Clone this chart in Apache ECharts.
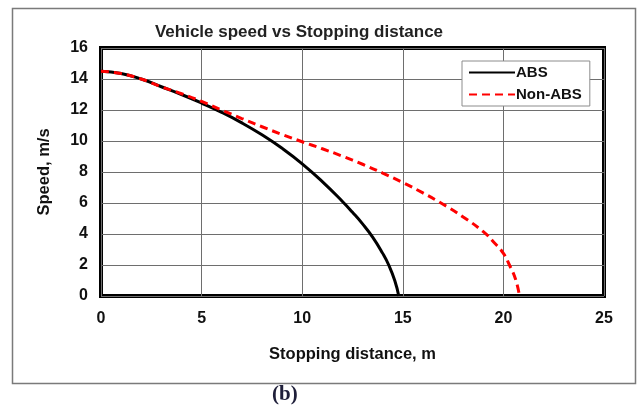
<!DOCTYPE html>
<html>
<head>
<meta charset="utf-8">
<script src="https://cdn.jsdelivr.net/npm/echarts@6/dist/echarts.min.js"></script>
<style>
  html, body { margin: 0; padding: 0; background: #fff; }
  #chart { width: 638px; height: 414px; }
</style>
</head>
<body>
<div id="chart"></div>
<script>
// Values.
const absDistance = [0, 1, 2, 3, 4, 5, 6, 7, 8, 9, 10, 11, 12, 12.5, 13, 13.5, 14, 14.3, 14.6, 14.8];
const absSpeed = [14.5, 14.35, 14.0, 13.5, 13.0, 12.45, 11.85, 11.17, 10.4, 9.53, 8.53, 7.38, 6.1, 5.4, 4.65, 3.8, 2.75, 2.0, 1.0, 0];

const nonAbsDistance = [0, 1, 2, 3, 4, 5, 6, 7, 8, 9, 10, 11, 12, 13, 14, 15, 16, 17, 18, 19, 19.5, 20, 20.3, 20.6, 20.8];
const nonAbsSpeed = [14.5, 14.35, 14.0, 13.5, 13.05, 12.55, 12.0, 11.45, 10.92, 10.42, 9.95, 9.5, 9.02, 8.5, 7.93, 7.32, 6.65, 5.92, 5.1, 4.15, 3.5, 2.75, 2.0, 1.1, 0];

const seriesNames = ['ABS', 'Non-ABS'];
const titleText = 'Vehicle speed vs Stopping distance';
const xAxisName = 'Stopping distance, m';
const yAxisName = 'Speed, m/s';
const captionText = '(b)';

const pairs = (xs, ys) => xs.map((x, i) => [x, ys[i]]);

const font = '"Liberation Sans", Arial, sans-serif';
const chart = echarts.init(document.getElementById('chart'), null, { renderer: 'canvas' });

chart.setOption({
  animation: false,
  backgroundColor: '#fff',
  title: {
    text: titleText,
    left: 294,
    textAlign: 'center',
    top: 19,
    textStyle: { fontFamily: font, fontSize: 17, fontWeight: 'bold', color: '#222' }
  },
  legend: {
    data: seriesNames,
    orient: 'vertical',
    left: 462,
    top: 61,
    itemWidth: 46,
    itemHeight: 14,
    itemGap: 7,
    padding: [4, 8, 4, 6],
    backgroundColor: '#fff',
    borderColor: '#8c8c8c',
    borderWidth: 1,
    borderRadius: 0,
    itemStyle: { opacity: 0 },
    textStyle: { fontFamily: font, fontSize: 15, fontWeight: 'bold', color: '#111', padding: [0, 0, 0, -4] }
  },
  grid: {
    left: 101,
    right: 34,
    top: 48,
    bottom: 118,
    show: true,
    borderColor: '#000',
    borderWidth: 4
  },
  xAxis: {
    type: 'value',
    min: 0,
    max: 25,
    interval: 5,
    name: xAxisName,
    nameLocation: 'middle',
    nameGap: 50,
    nameTextStyle: { fontFamily: font, fontSize: 16.5, fontWeight: 'bold', color: '#111' },
    axisLine: { show: false },
    axisTick: { show: false },
    axisLabel: { margin: 15, fontFamily: font, fontSize: 16, fontWeight: 'bold', color: '#111' },
    splitLine: { show: true, lineStyle: { color: '#6e6e6e', width: 1 } }
  },
  yAxis: {
    type: 'value',
    min: 0,
    max: 16,
    interval: 2,
    name: yAxisName,
    nameLocation: 'middle',
    nameGap: 48,
    nameRotate: 90,
    nameTextStyle: { fontFamily: font, fontSize: 16.5, fontWeight: 'bold', color: '#111' },
    axisLine: { show: false },
    axisTick: { show: false },
    axisLabel: { margin: 13, fontFamily: font, fontSize: 16, fontWeight: 'bold', color: '#111' },
    splitLine: { show: true, lineStyle: { color: '#6e6e6e', width: 1 } }
  },
  series: [
    {
      name: seriesNames[0],
      type: 'line',
      smooth: 0.5,
      symbol: 'none',
      data: pairs(absDistance, absSpeed),
      lineStyle: { color: '#000', width: 3 },
      itemStyle: { color: '#000' }
    },
    {
      name: seriesNames[1],
      type: 'line',
      smooth: 0.5,
      symbol: 'none',
      data: pairs(nonAbsDistance, nonAbsSpeed),
      lineStyle: { color: '#ff0000', width: 3, type: [8, 5] },
      itemStyle: { color: '#ff0000' }
    }
  ],
  graphic: [
    {
      type: 'rect',
      shape: { x: 12.5, y: 8.5, width: 623, height: 375 },
      style: { fill: 'none', stroke: '#7a7a7a', lineWidth: 1.5 },
      z: 0,
      silent: true
    },
    {
      type: 'text',
      left: 272,
      top: 384,
      style: {
        text: captionText,
        font: 'bold 21px "Liberation Serif", "Times New Roman", serif',
        fill: '#1f1f3a'
      }
    }
  ]
});
</script>
</body>
</html>
